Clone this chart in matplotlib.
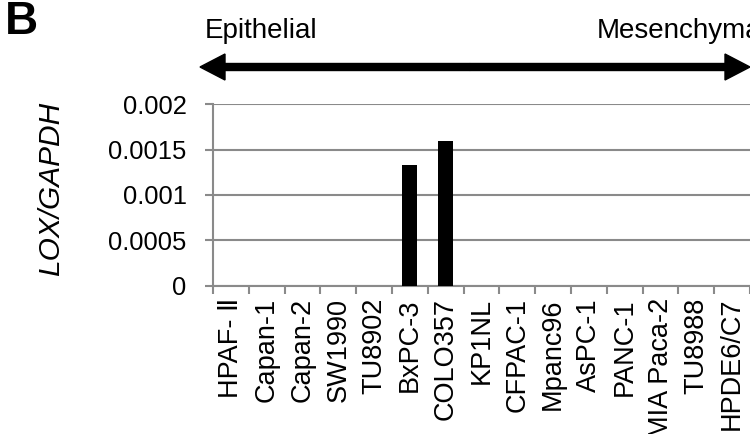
import numpy as np
import matplotlib
matplotlib.use('Agg')
import matplotlib.pyplot as plt
from matplotlib.patches import FancyArrow

# [1] data
cell_lines = ['HPAF- \u2161', 'Capan-1', 'Capan-2', 'SW1990', 'TU8902', 'BxPC-3',
              'COLO357', 'KP1NL', 'CFPAC-1', 'Mpanc96', 'AsPC-1', 'PANC-1',
              'MIA Paca-2', 'TU8988', 'HPDE6/C7']
lox_gapdh = [0, 0, 0, 0, 0, 0.00133, 0.0016, 0, 0, 0, 0, 0, 0, 0, 0]
y_ticks = [0, 0.0005, 0.001, 0.0015, 0.002]
y_tick_labels = ['0', '0.0005', '0.001', '0.0015', '0.002']

plt.rcParams['font.family'] = ['Liberation Sans', 'DejaVu Sans']
grey = '#8a8a8a'

W, H = 750, 434
fig = plt.figure(figsize=(W / 100, H / 100), dpi=100)
ax = fig.add_axes([213 / W, 1 - 285.5 / H, 537 / W, (285.5 - 104.3) / H])

x = np.arange(len(cell_lines))
ax.bar(x, lox_gapdh, width=0.42, color='black', zorder=3)

ax.set_xlim(-0.5, len(cell_lines) - 0.5)
ax.set_ylim(0, 0.002)
ax.set_yticks(y_ticks)
ax.set_yticklabels(y_tick_labels, fontsize=18.4)
ax.set_xticks(x)
ax.set_xticklabels(cell_lines, rotation=90, fontsize=19.5)
ax.set_xticks(np.arange(-0.5, len(cell_lines), 1), minor=True)
ax.tick_params(axis='x', which='major', length=0, pad=9)
ax.tick_params(axis='x', which='minor', length=6, width=1.5, color=grey)
ax.tick_params(axis='y', length=6, width=1.5, color=grey, pad=13)

ax.grid(axis='y', color=grey, linewidth=1.5, zorder=0)
for s in ['top', 'right']:
    ax.spines[s].set_visible(False)
for s in ['left', 'bottom']:
    ax.spines[s].set_color(grey)
    ax.spines[s].set_linewidth(1.5)

ax.set_ylabel('LOX/GAPDH', fontsize=21.5, style='italic')
ax.yaxis.set_label_coords(-0.276, 0.535)

# panel letter and EMT arrow
fig.text(5 / W, 1 - 22 / H, 'B', fontsize=33, fontweight='bold', va='center', ha='left')
fig.text(205 / W, 1 - 31 / H, 'Epithelial', fontsize=20, va='center', ha='left')
fig.text(597 / W, 1 - 31 / H, 'Mesenchymal', fontsize=20, va='center', ha='left')

mid = 470
for tip in (200, 750):
    fig.patches.append(FancyArrow(mid, H - 67, tip - mid, 0, width=7, head_width=26,
                                  head_length=25, length_includes_head=True,
                                  color='black', transform=None))

fig.savefig('out.png', dpi=100)
